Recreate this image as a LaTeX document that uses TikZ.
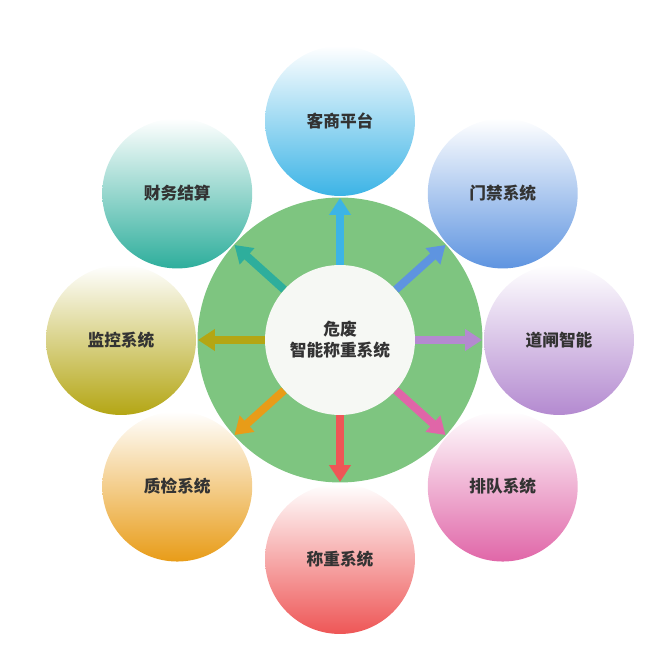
\documentclass[tikz,border=0pt]{standalone}
\usepackage{fontspec}
\newfontfamily\cjk{Noto Sans CJK SC}
\usetikzlibrary{arrows.meta}
\definecolor{kblue}{HTML}{3CB4E6}
\definecolor{mblue}{HTML}{5E94E0}
\definecolor{dpurple}{HTML}{B48AD0}
\definecolor{ppink}{HTML}{E066A8}
\definecolor{cred}{HTML}{EE5656}
\definecolor{zorange}{HTML}{E89C18}
\definecolor{jolive}{HTML}{B4A614}
\definecolor{cteal}{HTML}{2EAE9C}
\definecolor{hgreen}{HTML}{7EC580}
\definecolor{hwhite}{HTML}{F6F8F4}
\begin{document}
\begin{tikzpicture}[x=0.02cm,y=0.02cm]
	\tikzstyle{sub} = [circle, minimum size=3cm, inner sep=0pt, align=center, font=\cjk\bfseries\fontsize{9.5}{12}\selectfont, text=black!80]
	\tikzstyle{arrow} = [line width=0.16cm, -{Triangle[width=0.42cm,length=0.34cm]}]
	\useasboundingbox (-340,-325) rectangle (324,340);

	\node (ring) [circle, fill=hgreen, minimum size=5.7cm] at (0,0) {};
	\node (core) [sub, fill=hwhite] at (0,0) {危废\\智能称重系统};

	\foreach \i/\a/\c/\t in {1/90/kblue/客商平台, 2/42/mblue/门禁系统, 3/0/dpurple/道闸智能,
		4/-42/ppink/排队系统, 5/-90/cred/称重系统, 6/-138/zorange/质检系统,
		7/180/jolive/监控系统, 8/138/cteal/财务结算} {
		\node (s\i) [sub, top color=white, bottom color=\c] at (\a:219) {\t};
		\coordinate (t\i) at (\a:142);
		\draw [arrow, \c] (core.\a) -- (t\i);
	}
\end{tikzpicture}
\end{document}
